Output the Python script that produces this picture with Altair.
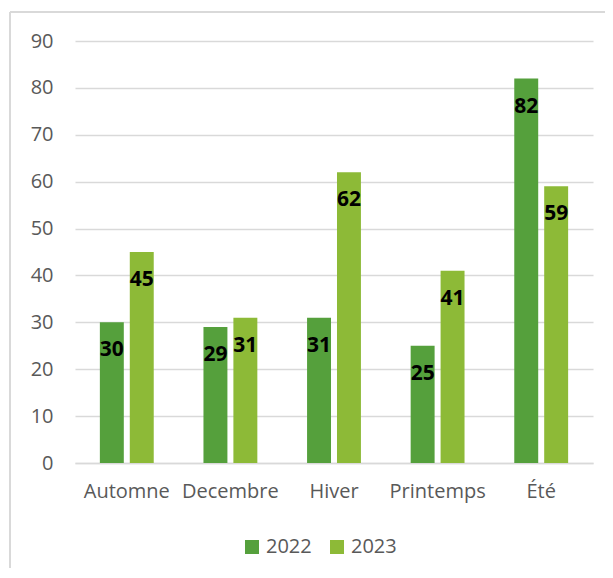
import altair as alt
import pandas as pd

categories = ["Automne", "Decembre", "Hiver", "Printemps", "Été"]
years = ["2022", "2023"]
values_2022 = [30, 29, 31, 25, 82]
values_2023 = [45, 31, 62, 41, 59]
y_ticks = [0, 10, 20, 30, 40, 50, 60, 70, 80, 90]
colors = ["#55A03C", "#8DBA37"]

rows = []
for c, a, b in zip(categories, values_2022, values_2023):
    rows.append({"cat": c, "year": years[0], "value": a})
    rows.append({"cat": c, "year": years[1], "value": b})
df = pd.DataFrame(rows)

W, H = 518, 422

x = alt.X("cat:N", sort=categories, title=None,
          scale=alt.Scale(paddingInner=0.48, paddingOuter=0.24),
          axis=alt.Axis(labelAngle=0, ticks=False, domain=True, domainColor="#d9d9d9",
                        domainWidth=1.5, labelFont="Open Sans", labelFontSize=20,
                        labelColor="#595959", labelPadding=18, grid=False))
y = alt.Y("value:Q", title=None,
          scale=alt.Scale(domain=[0, 90], nice=False),
          axis=alt.Axis(values=y_ticks, ticks=False, domain=False, grid=True,
                        gridColor="#d9d9d9", gridWidth=1.5, labelFont="Open Sans",
                        labelFontSize=20, labelColor="#595959", labelPadding=22))
xo = alt.XOffset("year:N", scale=alt.Scale(paddingInner=0.2, paddingOuter=0))

bars = alt.Chart(df).mark_bar().encode(
    x=x, y=y, xOffset=xo,
    color=alt.Color("year:N", scale=alt.Scale(domain=years, range=colors), title=None,
                    legend=alt.Legend(orient="none", legendX=167, legendY=496,
                                      direction="horizontal", symbolType="square",
                                      symbolSize=196, symbolStrokeWidth=0,
                                      labelFont="Open Sans", labelFontSize=20,
                                      labelColor="#595959", labelOffset=4,
                                      columnPadding=15, padding=0)),
)

labels = alt.Chart(df).mark_text(
    font="Open Sans", fontWeight="bold", fontSize=21, color="black",
    baseline="middle", dy=28
).encode(x=x, y=y, xOffset=xo, text=alt.Text("value:Q"))

border_left = alt.Chart(df).mark_rule(color="#d9d9d9", strokeWidth=1.5).encode(
    x=alt.value(-65), y=alt.value(-29), y2=alt.value(H + 110))
border_top = alt.Chart(df).mark_rule(color="#d9d9d9", strokeWidth=1.5).encode(
    x=alt.value(-65), x2=alt.value(W + 40), y=alt.value(-29))

chart = alt.layer(border_left, border_top, bars, labels).properties(
    width=W, height=H,
    autosize=alt.AutoSizeParams(type="none"),
    padding={"left": 67, "top": 33, "right": 12, "bottom": 105},
    background="white",
).configure_view(stroke=None)

chart.save("out.html", embed_options={"renderer": "svg", "actions": False})
